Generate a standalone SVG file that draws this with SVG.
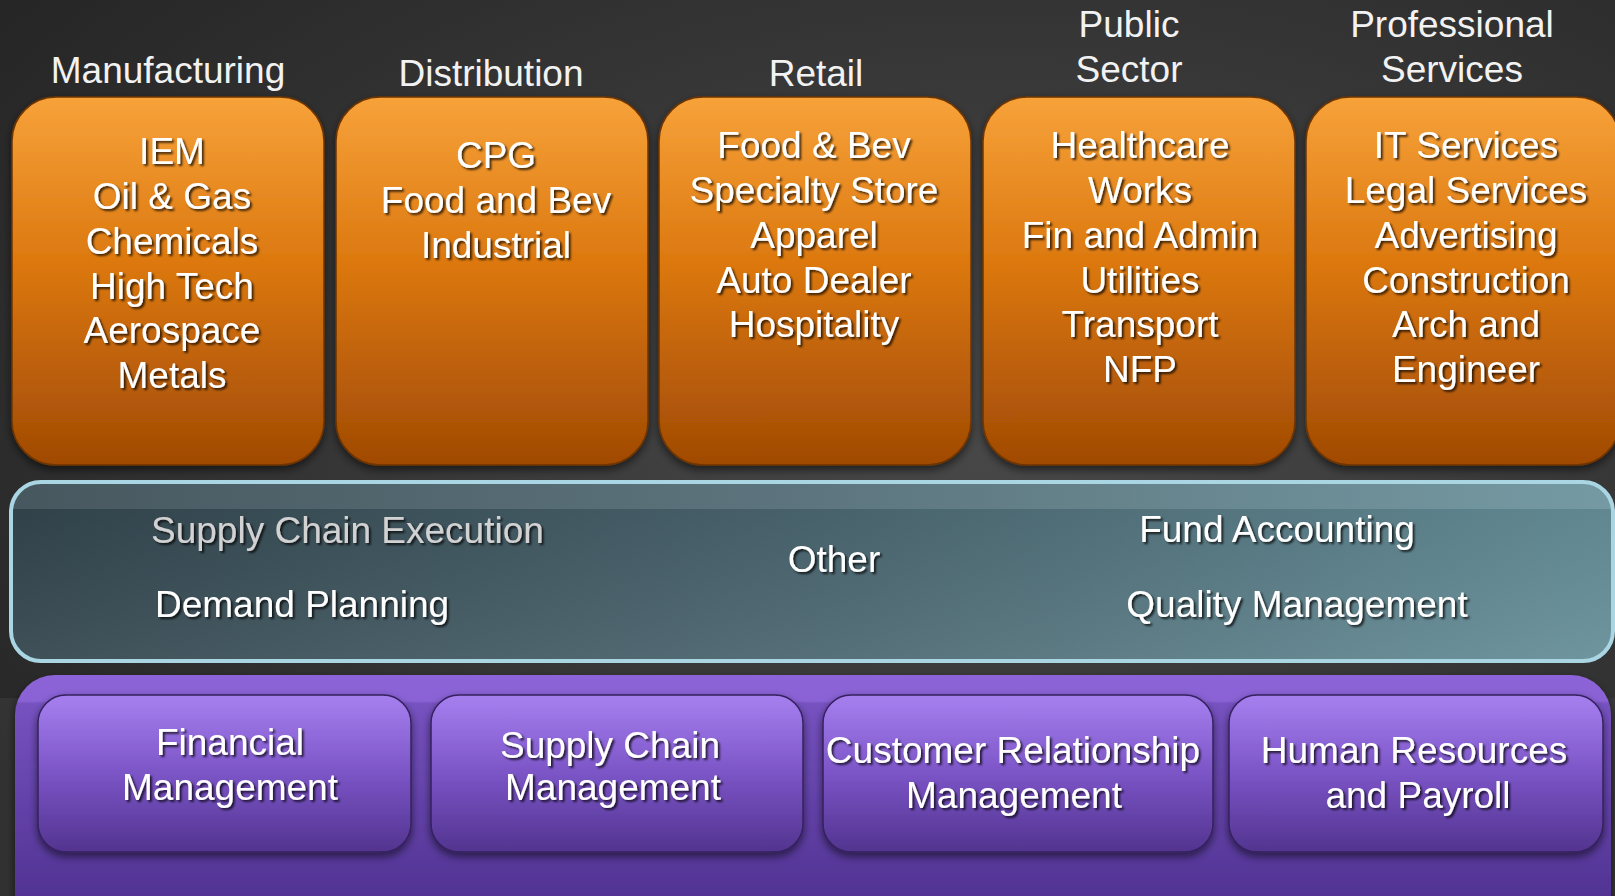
<svg xmlns="http://www.w3.org/2000/svg" width="1615" height="896" viewBox="0 0 1615 896">
  <defs>
    <radialGradient id="bg" cx="0.62" cy="0.45" r="0.75">
      <stop offset="0" stop-color="#4a4a4a"/>
      <stop offset="0.6" stop-color="#343434"/>
      <stop offset="1" stop-color="#262626"/>
    </radialGradient>
    <linearGradient id="orange" x1="0" y1="0" x2="0" y2="1">
      <stop offset="0" stop-color="#f7a23a"/>
      <stop offset="0.45" stop-color="#dc780f"/>
      <stop offset="1" stop-color="#a04a04"/>
    </linearGradient>
    <linearGradient id="tealH" x1="0" y1="0" x2="1" y2="0">
      <stop offset="0" stop-color="#33454d"/>
      <stop offset="0.5" stop-color="#4b6670"/>
      <stop offset="1" stop-color="#668f99"/>
    </linearGradient>
    <linearGradient id="tealTop" x1="0" y1="0" x2="0" y2="1">
      <stop offset="0" stop-color="#ffffff" stop-opacity="0.10"/>
      <stop offset="0.15" stop-color="#ffffff" stop-opacity="0.10"/>
      <stop offset="0.151" stop-color="#000000" stop-opacity="0.05"/>
      <stop offset="1" stop-color="#ffffff" stop-opacity="0.06"/>
    </linearGradient>
    <linearGradient id="purpleOuter" x1="0" y1="0" x2="0" y2="1">
      <stop offset="0" stop-color="#8c64d8"/>
      <stop offset="0.1" stop-color="#8a62d5"/>
      <stop offset="0.11" stop-color="#7652c0"/>
      <stop offset="1" stop-color="#4a2d8a"/>
    </linearGradient>
    <linearGradient id="purpleInner" x1="0" y1="0" x2="0" y2="1">
      <stop offset="0" stop-color="#a780f0"/>
      <stop offset="0.5" stop-color="#7b54c6"/>
      <stop offset="1" stop-color="#52348f"/>
    </linearGradient>
    <filter id="boxShadow" x="-10%" y="-10%" width="120%" height="125%">
      <feDropShadow dx="0" dy="4" stdDeviation="4" flood-color="#000" flood-opacity="0.55"/>
    </filter>
    <filter id="txtShadow" x="-10%" y="-30%" width="120%" height="160%">
      <feDropShadow dx="2" dy="2" stdDeviation="1.2" flood-color="#000" flood-opacity="0.75"/>
    </filter>
  </defs>
  <style>
    text { font-family: "Liberation Sans", Arial, sans-serif; font-size: 37px; fill: #ffffff; }
    .hdr { text-anchor: middle; fill: #f2f2f2; }
    .c { text-anchor: middle; }
    .sh { filter: url(#txtShadow); }
    .gray { fill: #d2d2d2; }
    .obox { fill: url(#orange); stroke: #6e3502; stroke-width: 1.5; filter: url(#boxShadow); }
    .pbox { fill: url(#purpleInner); stroke: #34205e; stroke-width: 1.5; filter: url(#boxShadow); }
    .hl { fill: #ffe0a0; opacity: 0.7; }
  </style>

  <!-- background -->
  <rect x="0" y="0" width="1615" height="896" fill="url(#bg)"/>
  <rect x="0" y="698" width="1615" height="198" fill="#555" opacity="0.25"/>

  <!-- headers -->
  <g id="headers">
    <text class="hdr" x="168" y="83">Manufacturing</text>
    <text class="hdr" x="491" y="86">Distribution</text>
    <text class="hdr" x="816" y="86">Retail</text>
    <text class="hdr" x="1129" y="37">Public</text>
    <text class="hdr" x="1129" y="82">Sector</text>
    <text class="hdr" x="1452" y="37">Professional</text>
    <text class="hdr" x="1452" y="82">Services</text>
  </g>

  <!-- industry nodes -->
  <g id="node-manufacturing">
    <rect class="obox" x="12" y="97" width="312" height="368" rx="44"/>
    <g class="sh">
      <text class="c" x="172" y="164">IEM</text>
      <text class="c" x="172" y="209">Oil &amp; Gas</text>
      <text class="c" x="172" y="254">Chemicals</text>
      <text class="c" x="172" y="299">High Tech</text>
      <text class="c" x="172" y="343">Aerospace</text>
      <text class="c" x="172" y="388">Metals</text>
    </g>
  </g>
  <g id="node-distribution">
    <rect class="obox" x="336" y="97" width="312" height="368" rx="44"/>
    <g class="sh">
      <text class="c" x="496" y="168">CPG</text>
      <text class="c" x="496" y="213">Food and Bev</text>
      <text class="c" x="496" y="258">Industrial</text>
    </g>
  </g>
  <g id="node-retail">
    <rect class="obox" x="659" y="97" width="312" height="368" rx="44"/>
    <g class="sh">
      <text class="c" x="814" y="158">Food &amp; Bev</text>
      <text class="c" x="814" y="203">Specialty Store</text>
      <text class="c" x="814" y="248">Apparel</text>
      <text class="c" x="814" y="293">Auto Dealer</text>
      <text class="c" x="814" y="337">Hospitality</text>
    </g>
  </g>
  <g id="node-public-sector">
    <rect class="obox" x="983" y="97" width="312" height="368" rx="44"/>
    <g class="sh">
      <text class="c" x="1140" y="158">Healthcare</text>
      <text class="c" x="1140" y="203">Works</text>
      <text class="c" x="1140" y="248">Fin and Admin</text>
      <text class="c" x="1140" y="293">Utilities</text>
      <text class="c" x="1140" y="337">Transport</text>
      <text class="c" x="1140" y="382">NFP</text>
    </g>
  </g>
  <g id="node-professional-services">
    <rect class="obox" x="1306" y="97" width="314" height="368" rx="44"/>
    <g class="sh">
      <text class="c" x="1466" y="158">IT Services</text>
      <text class="c" x="1466" y="203">Legal Services</text>
      <text class="c" x="1466" y="248">Advertising</text>
      <text class="c" x="1466" y="293">Construction</text>
      <text class="c" x="1466" y="337">Arch and</text>
      <text class="c" x="1466" y="382">Engineer</text>
    </g>
  </g>

  <!-- middle band -->
  <g id="node-other">
    <rect x="11" y="482" width="1602" height="179" rx="30" fill="url(#tealH)"/>
    <rect x="11" y="482" width="1602" height="179" rx="30" fill="url(#tealTop)" stroke="#a9d6e2" stroke-width="4"/>
    <g class="sh">
      <text class="gray" x="151" y="543">Supply Chain Execution</text>
      <text x="155" y="617">Demand Planning</text>
      <text class="c" x="834" y="572">Other</text>
      <text class="c" x="1277" y="542">Fund Accounting</text>
      <text class="c" x="1297" y="617">Quality Management</text>
    </g>
  </g>

  <!-- bottom platform -->
  <g id="node-platform">
    <rect x="15" y="675" width="1596" height="260" rx="40" fill="url(#purpleOuter)" filter="url(#boxShadow)"/>
  </g>
  <g id="node-financial">
    <rect class="pbox" x="38" y="695" width="373" height="157" rx="28"/>
    <g class="sh">
      <text class="c" x="230" y="755">Financial</text>
      <text class="c" x="230" y="800">Management</text>
    </g>
  </g>
  <g id="node-scm">
    <rect class="pbox" x="431" y="695" width="372" height="157" rx="28"/>
    <g class="sh">
      <text class="c" x="610" y="758">Supply Chain</text>
      <text class="c" x="613" y="800">Management</text>
    </g>
  </g>
  <g id="node-crm">
    <rect class="pbox" x="823" y="695" width="390" height="157" rx="28"/>
    <g class="sh">
      <text class="c" x="1013" y="763">Customer Relationship</text>
      <text class="c" x="1014" y="808">Management</text>
    </g>
  </g>
  <g id="node-hr">
    <rect class="pbox" x="1229" y="695" width="374" height="157" rx="28"/>
    <g class="sh">
      <text class="c" x="1414" y="763">Human Resources</text>
      <text class="c" x="1418" y="808">and Payroll</text>
    </g>
  </g>

  <g id="connectors"/>
</svg>
